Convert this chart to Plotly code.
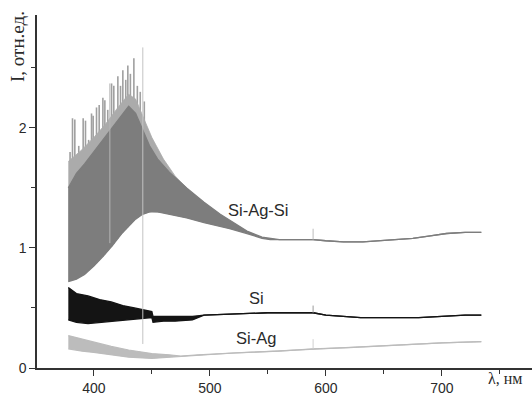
import numpy as np
import plotly.graph_objects as go

# ---------------- data ----------------
# Si-Ag-Si: noisy band (upper/lower envelope) that becomes a single line
sas_wl = [378, 385, 392, 400, 408, 416, 424, 430, 436, 442, 448, 455, 465, 480,
          495, 509, 517, 532, 545, 552, 560, 575, 589, 600, 615, 632, 650, 675,
          690, 704, 720, 734]
sas_upper = [1.50, 1.62, 1.70, 1.80, 1.90, 2.00, 2.10, 2.18, 2.12, 1.98, 1.85, 1.74,
             1.63, 1.50, 1.38, 1.28, 1.23, 1.14, 1.09, 1.08, 1.07, 1.07, 1.07, 1.06,
             1.05, 1.05, 1.06, 1.08, 1.10, 1.12, 1.13, 1.13]
sas_lower = [0.72, 0.74, 0.78, 0.85, 0.93, 1.02, 1.12, 1.18, 1.24, 1.28, 1.30, 1.30,
             1.28, 1.25, 1.21, 1.18, 1.16, 1.12, 1.08, 1.07, 1.07, 1.07, 1.07, 1.06,
             1.05, 1.05, 1.06, 1.08, 1.10, 1.12, 1.13, 1.13]
# lighter zone of densely packed spikes above the dense band
mid_wl = [378, 390, 400, 410, 420, 430, 436, 442, 450, 460, 470, 480]
mid_top = [1.72, 1.82, 1.92, 2.03, 2.16, 2.28, 2.24, 2.10, 1.92, 1.74, 1.60, 1.50]
# tall spikes of the Si-Ag-Si spectrum
spike_wl = [379.5, 381.6, 383.6, 387, 390.8, 392.8, 395.5, 398.0, 399.4, 402.3,
            404.6, 407.8, 409.5, 412, 415.3, 417.2, 420.7, 423, 425.0, 427.5, 429.3,
            431.5, 434.5, 437.5, 440, 443.5, 446.5, 449, 453, 459]
spike_top = [1.80, 2.08, 2.07, 1.85, 2.08, 2.06, 1.90, 2.12, 2.10, 2.17, 2.19, 2.25,
             2.23, 2.15, 2.37, 2.35, 2.43, 2.35, 2.48, 2.40, 2.52, 2.45, 2.58, 2.35,
             2.30, 2.22, 1.96, 1.88, 1.80, 1.68]

# Si: noisy band then line
si_wl = [378, 385, 395, 405, 415, 425, 435, 445, 450, 451, 460, 470, 485, 495,
         520, 550, 575, 589, 600, 615, 630, 660, 680, 700, 720, 734]
si_upper = [0.67, 0.62, 0.60, 0.57, 0.55, 0.52, 0.50, 0.48, 0.47, 0.43, 0.43, 0.43,
            0.43, 0.44, 0.45, 0.46, 0.46, 0.46, 0.44, 0.43, 0.42, 0.42, 0.42, 0.43,
            0.44, 0.44]
si_lower = [0.40, 0.38, 0.37, 0.38, 0.39, 0.40, 0.41, 0.42, 0.42, 0.38, 0.39, 0.39,
            0.40, 0.44, 0.45, 0.46, 0.46, 0.46, 0.44, 0.43, 0.42, 0.42, 0.42, 0.43,
            0.44, 0.44]

# Si-Ag: noisy band then line
sa_wl = [378, 390, 400, 415, 430, 450, 465, 475, 490, 520, 560, 589, 620, 660, 700, 734]
sa_upper = [0.27, 0.24, 0.22, 0.18, 0.15, 0.12, 0.11, 0.10, 0.11, 0.125, 0.14, 0.16,
            0.17, 0.19, 0.21, 0.22]
sa_lower = [0.16, 0.14, 0.13, 0.11, 0.09, 0.08, 0.09, 0.10, 0.11, 0.125, 0.14, 0.16,
            0.17, 0.19, 0.21, 0.22]

# narrow artefact lines (wavelength, bottom, top)
art_wl = [413.8, 442.2, 589, 589, 589]
art_bottom = [1.04, 0.20, 1.07, 0.46, 0.16]
art_top = [2.37, 2.67, 1.16, 0.52, 0.24]
art_color = ["#b4b4b4", "#c4c4c4", "#bdbdbd", "#9a9a9a", "#d0d0d0"]

labels = ["Si-Ag-Si", "Si", "Si-Ag"]
label_wl = [542, 540, 540]
label_y = [1.32, 0.58, 0.25]

x_ticks = [400, 500, 600, 700]
y_ticks = [0, 1, 2]

# ---------------- figure ----------------
fig = go.Figure()

# spikes (under the dense band)
base = np.interp(spike_wl, sas_wl, sas_lower)
sx, sy = [], []
for w, b, t in zip(spike_wl, base, spike_top):
    sx += [w, w, None]
    sy += [b, t, None]
fig.add_trace(go.Scatter(x=sx, y=sy, mode="lines",
                         line=dict(color="#a0a0a0", width=1.6), hoverinfo="skip"))

# light zone of packed spikes
mid_base = np.interp(mid_wl, sas_wl, sas_lower)
fig.add_trace(go.Scatter(x=mid_wl, y=mid_base, mode="lines",
                         line=dict(color="rgba(0,0,0,0)", width=0), hoverinfo="skip"))
fig.add_trace(go.Scatter(x=mid_wl, y=mid_top, mode="lines", fill="tonexty",
                         fillcolor="#ababab", line=dict(color="#ababab", width=0.8),
                         hoverinfo="skip"))


def band(wl, lo, hi, color, width):
    fig.add_trace(go.Scatter(x=wl, y=lo, mode="lines",
                             line=dict(color=color, width=width), hoverinfo="skip"))
    fig.add_trace(go.Scatter(x=wl, y=hi, mode="lines", fill="tonexty",
                             fillcolor=color,
                             line=dict(color=color, width=width), hoverinfo="skip"))


band(sas_wl, sas_lower, sas_upper, "#7d7d7d", 1.3)
band(si_wl, si_lower, si_upper, "#141414", 1.3)
band(sa_wl, sa_lower, sa_upper, "#bcbcbc", 1.2)

for w, b, t, c in zip(art_wl, art_bottom, art_top, art_color):
    fig.add_trace(go.Scatter(x=[w, w], y=[b, t], mode="lines",
                             line=dict(color=c, width=1), hoverinfo="skip"))

for txt, xw, yv in zip(labels, label_wl, label_y):
    fig.add_annotation(x=xw, y=yv, text=txt, showarrow=False,
                       font=dict(family="Liberation Sans, Arial", size=16.5, color="#2a2a2a"))

fig.add_annotation(xref="paper", yref="paper", x=-0.038, y=0.91,
                   xanchor="center", yanchor="middle",
                   text="I, отн.ед.", textangle=-90, showarrow=False,
                   font=dict(family="Liberation Serif, Times New Roman", size=19, color="#2a2a2a"))
fig.add_annotation(xref="paper", yref="paper", x=0.945, y=-0.03,
                   text="λ, нм", showarrow=False, xanchor="center", yanchor="middle",
                   font=dict(family="Liberation Serif, Times New Roman", size=16, color="#2a2a2a"))

fig.update_layout(
    width=532, height=397,
    margin=dict(l=37, r=0, t=15, b=29),
    paper_bgcolor="white", plot_bgcolor="white",
    showlegend=False,
    font=dict(family="Liberation Sans, Arial", size=14, color="#2a2a2a"),
)
fig.update_xaxes(range=[351, 777.7], tickvals=x_ticks, ticktext=[str(v) for v in x_ticks],
                 showgrid=False, zeroline=False, showline=True, linecolor="#333",
                 linewidth=1.5, ticks="outside", ticklen=6, tickcolor="#333", tickwidth=1.3,
                 minor=dict(tickvals=[450, 550, 650, 750], ticks="outside", ticklen=4,
                            tickcolor="#333", tickwidth=1.3))
fig.update_yaxes(range=[0, 2.94], tickvals=y_ticks, ticktext=[str(v) for v in y_ticks],
                 showgrid=False, zeroline=False, showline=True, linecolor="#333",
                 linewidth=1.5, ticks="outside", ticklen=6, tickcolor="#333", tickwidth=1.3,
                 minor=dict(tickvals=[0.5, 1.5, 2.5], ticks="outside", ticklen=4,
                            tickcolor="#333", tickwidth=1.3))

fig.write_html("out.html", config={"displayModeBar": False},
               post_script="document.body.style.margin='0';document.body.style.overflow='hidden';")
